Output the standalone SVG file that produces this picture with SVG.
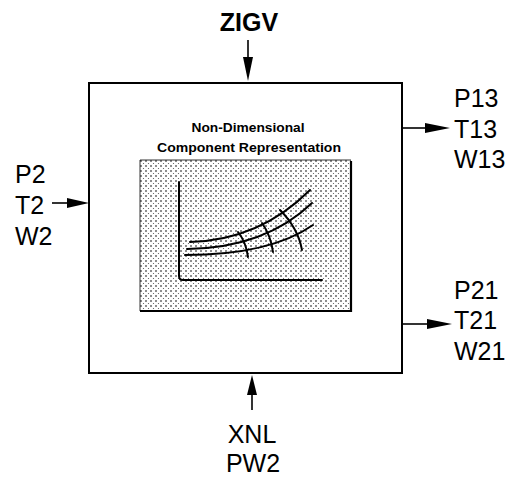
<svg xmlns="http://www.w3.org/2000/svg" width="511" height="479" viewBox="0 0 511 479">
<style>
.lbl{font-family:"Liberation Sans",Arial,sans-serif;font-size:25px;fill:#000}
.ttl{font-family:"Liberation Sans",Arial,sans-serif;font-size:12.5px;font-weight:bold;fill:#000}
.ln{stroke:#000;stroke-width:1.6;fill:none}
.crv{stroke:#000;stroke-width:2;fill:none;stroke-linecap:round}
.head{fill:#000}
</style>
<defs>
<pattern id="dots" width="5" height="5" patternUnits="userSpaceOnUse">
<rect width="5" height="5" fill="#fff"/>
<circle cx="1" cy="1" r="0.8" fill="#000"/>
<circle cx="3.5" cy="3.5" r="0.6" fill="#555"/>
</pattern>
</defs>
<g id="block">
<rect x="89" y="83" width="313" height="290" fill="#fff" stroke="#000" stroke-width="2"/>
<text class="ttl" x="248" y="132" text-anchor="middle" textLength="113" lengthAdjust="spacingAndGlyphs">Non-Dimensional</text>
<text class="ttl" x="249" y="152" text-anchor="middle" textLength="184" lengthAdjust="spacingAndGlyphs">Component Representation</text>
<rect x="140" y="160" width="211" height="151" fill="url(#dots)"/>
<path d="M140,311 V160 H351" fill="none" stroke="#000" stroke-width="0.8"/>
<path d="M351,161 V311 H140" fill="none" stroke="#000" stroke-width="2.2"/>
<path d="M179,182 V276 Q179,280 183,280 H322" class="crv"/>
<path d="M190,242 Q260,240 310,190" class="crv"/>
<path d="M187,249 Q265,248 312,203" class="crv"/>
<path d="M185,255 Q270,255 313,225" class="crv"/>
<path d="M238,232 Q246,242 248,257" class="crv"/>
<path d="M262,223 Q271,236 273,252" class="crv"/>
<path d="M280,210 Q298,228 302,250" class="crv"/>
</g>
<g id="in-top">
<text class="lbl" x="249" y="31" text-anchor="middle" font-weight="bold">ZIGV</text>
</g>
<g id="in-left">
<text class="lbl" x="15" y="183">P2</text>
<text class="lbl" x="15" y="214">T2</text>
<text class="lbl" x="15" y="245">W2</text>
</g>
<g id="out-13">
<text class="lbl" x="454" y="107">P13</text>
<text class="lbl" x="454" y="138">T13</text>
<text class="lbl" x="454" y="168">W13</text>
</g>
<g id="out-21">
<text class="lbl" x="454" y="299">P21</text>
<text class="lbl" x="454" y="329">T21</text>
<text class="lbl" x="454" y="360">W21</text>
</g>
<g id="in-bottom">
<text class="lbl" x="252" y="443" text-anchor="middle" font-size="24">XNL</text>
<text class="lbl" x="253" y="472" text-anchor="middle" font-size="24">PW2</text>
</g>
<g id="connectors">
<line class="ln" x1="248" y1="40" x2="248" y2="58"/>
<polygon class="head" points="243,57 253,57 248,81"/>
<line class="ln" x1="52" y1="203" x2="68" y2="203"/>
<polygon class="head" points="67,198 67,208 89,203"/>
<line class="ln" x1="402" y1="128" x2="426" y2="128"/>
<polygon class="head" points="425,123 425,133 450,128"/>
<line class="ln" x1="402" y1="324" x2="428" y2="324"/>
<polygon class="head" points="427,319 427,329 452,324"/>
<line class="ln" x1="252" y1="394" x2="252" y2="410"/>
<polygon class="head" points="247,395 257,395 252,375"/>
</g>
</svg>
